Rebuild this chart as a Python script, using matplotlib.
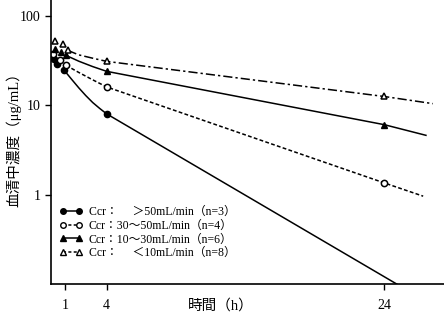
import matplotlib
matplotlib.use('Agg')
import matplotlib.pyplot as plt
from matplotlib.lines import Line2D

plt.rcParams['font.family'] = ['Liberation Serif', 'Noto Sans CJK JP']
plt.rcParams['font.size'] = 8

# measured points (time h, serum conc ug/mL)
t_gt50 = [0.22, 0.45, 0.95, 4]
c_gt50 = [33, 29, 24.5, 8.0]
t_30_50 = [0.17, 0.65, 1.08, 4, 24]
c_30_50 = [37.6, 31.7, 27.9, 16, 1.35]
t_10_30 = [0.29, 0.7, 1.08, 4, 24]
c_10_30 = [42.8, 39.3, 36, 23.9, 6.05]
t_lt10 = [0.29, 0.89, 1.2, 4, 24]
c_lt10 = [52, 48.7, 41, 30.9, 12.5]

# fitted curves
ft_gt50 = [0.95, 1.5, 2, 2.5, 3, 3.5, 4, 25.5]
fc_gt50 = [24.5, 19.3, 15.6, 12.8, 10.7, 9.2, 8.0, 0.088]
ft_30_50 = [1.08, 2, 3, 4, 24, 26.8]
fc_30_50 = [27.9, 23.2, 19.2, 16, 1.35, 0.96]
ft_10_30 = [1.08, 2, 3, 4, 24, 27]
fc_10_30 = [36, 31, 27, 23.9, 6.05, 4.6]
ft_lt10 = [1.2, 2, 3, 4, 24, 27.5]
fc_lt10 = [41, 36.5, 33.5, 30.9, 12.5, 10.4]

labels = ['Ccr：　 ＞50mL/min（n=3）',
          'Ccr：30～50mL/min（n=4）',
          'Ccr：10～30mL/min（n=6）',
          'Ccr：　 ＜10mL/min（n=8）']

fig = plt.figure(figsize=(4.44, 3.22), dpi=100)
ax = fig.add_axes([0.115, 0.118, 0.885, 0.882])

lw = 1.1
ms = 4.5
ax.plot(ft_gt50, fc_gt50, color='black', lw=lw, ls='-')
ax.plot(ft_30_50, fc_30_50, color='black', lw=lw, ls=(0, (2.5, 1.5)))
ax.plot(ft_10_30, fc_10_30, color='black', lw=lw, ls='-')
ax.plot(ft_lt10, fc_lt10, color='black', lw=lw, ls=(0, (6, 2, 1.5, 2)))

ax.plot(t_gt50, c_gt50, 'o', color='black', ms=ms)
ax.plot(t_30_50, c_30_50, 'o', mfc='white', mec='black', mew=1.1, ms=ms)
ax.plot(t_10_30, c_10_30, '^', color='black', ms=ms + 0.5)
ax.plot(t_lt10, c_lt10, '^', mfc='white', mec='black', mew=1.1, ms=ms + 0.5)

ax.set_yscale('log')
ax.set_ylim(0.1, 150)
ax.set_xlim(0, 28.3)
ax.set_yticks([1, 10, 100])
ax.set_yticklabels(['1', '10', '100'])
ax.yaxis.set_minor_locator(matplotlib.ticker.NullLocator())
ax.set_xticks([1, 4, 24])
ax.set_xticklabels(['1', '4', '24'])
ax.tick_params(direction='out', length=4, width=1, labelsize=10)
ax.tick_params(axis='x', pad=7)
ax.spines['top'].set_visible(False)
ax.spines['right'].set_visible(False)
ax.spines['left'].set_linewidth(1.2)
ax.spines['bottom'].set_linewidth(1.2)

ax.set_ylabel('血清中濃度（μg/mL）', fontsize=10.5)
ax.yaxis.set_label_coords(-0.075, 0.52)
fig.text(0.497, 0.052, '時間（h）', fontsize=10.5, ha='center', va='center')

handles = [
    Line2D([], [], color='black', ls='-', marker='o', ms=4, lw=lw),
    Line2D([], [], color='black', ls=(0, (2, 1.5)), marker='o', mfc='white', ms=4, lw=lw),
    Line2D([], [], color='black', ls='-', marker='^', ms=4.5, lw=lw),
    Line2D([], [], color='black', ls=(0, (2, 1.5)), marker='^', mfc='white', ms=4.5, lw=lw),
]
ax.legend(handles, labels, loc='lower left', bbox_to_anchor=(0.0, 0.058),
          frameon=False, numpoints=2, handlelength=2.0, handletextpad=0.5,
          labelspacing=0.15, fontsize=8.5, borderpad=0.2)

fig.savefig('out.png', dpi=100)
